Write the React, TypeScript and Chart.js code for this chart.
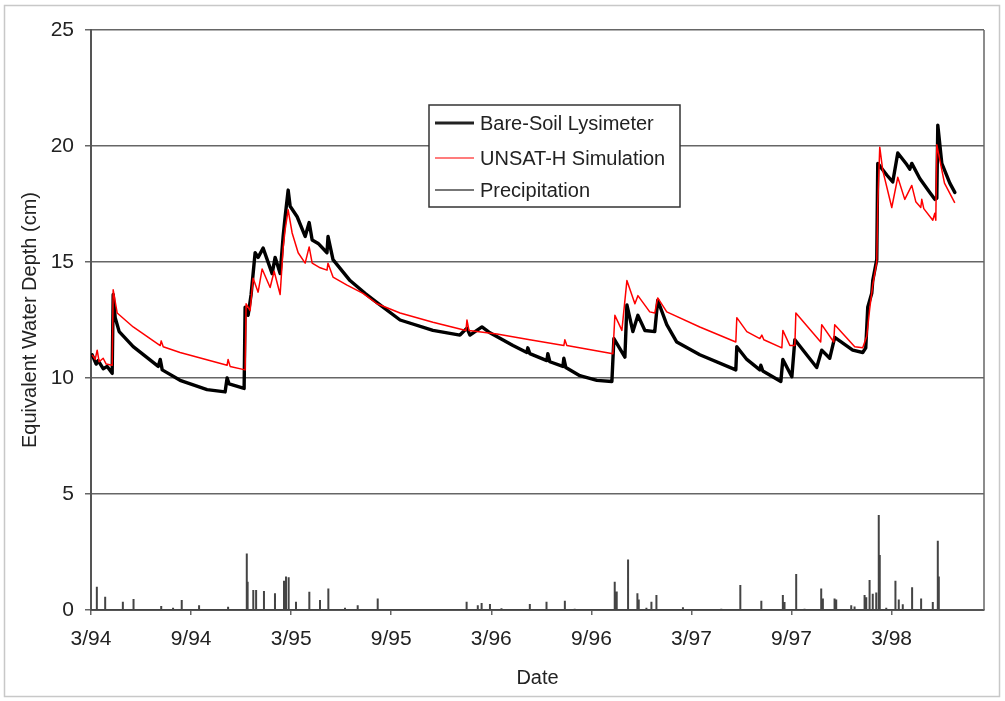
import React, { useEffect, useRef } from "react";
import { Chart, registerables } from "chart.js";

Chart.register(...registerables);

// x values are months since March 1994
const lysimeterMonths = [
  0.07, 0.31, 0.43, 0.73, 0.97, 1.27, 1.33, 1.45, 1.69, 2.53, 4.03, 4.15, 4.27, 5.34, 6.96, 8.04, 8.16, 8.28,
  9.18, 9.24, 9.42, 9.6, 9.84, 10.02, 10.32, 10.86, 11.04, 11.34, 11.52, 11.64, 11.82, 11.94, 12.36, 12.84,
  13.08, 13.26, 13.62, 14.15, 14.21, 14.51, 15.53, 16.43, 17.15, 18.53, 20.5, 22.12, 22.54, 22.72, 23.44,
  23.92, 25.3, 26.13, 26.19, 26.31, 27.33, 27.39, 27.51, 28.29, 28.35, 28.47, 29.31, 30.33, 31.23, 31.35,
  32.01, 32.13, 32.49, 32.79, 33.21, 33.8, 33.98, 34.52, 35.12, 36.5, 38.66, 38.72, 39.32, 40.1, 40.16,
  40.28, 41.36, 41.48, 42.02, 42.2, 43.51, 43.81, 44.29, 44.59, 45.67, 46.27, 46.45, 46.57, 46.81, 46.87,
  47.11, 47.17, 47.71, 48.07, 48.37, 48.91, 49.09, 49.21, 49.69, 50.29, 50.59, 50.71, 50.77, 51.01, 51.49,
  51.79,
];
const lysimeterDepth = [
  11.0, 10.6, 10.75, 10.4, 10.5, 10.2, 13.6, 12.6, 12.0, 11.35, 10.5, 10.8, 10.35, 9.9, 9.5, 9.4, 10.0, 9.75,
  9.55, 13.05, 12.7, 13.6, 15.4, 15.2, 15.6, 14.5, 15.2, 14.5, 16.1, 16.95, 18.1, 17.4, 16.95, 16.1,
  16.7, 15.95, 15.8, 15.4, 16.1, 15.1, 14.2, 13.65, 13.25, 12.5, 12.05, 11.85, 12.15, 11.85, 12.2,
  11.95, 11.4, 11.1, 11.3, 11.05, 10.75, 11.05, 10.7, 10.5, 10.85, 10.45, 10.1, 9.9, 9.85, 11.7,
  10.9, 13.15, 12.0, 12.7, 12.05, 12.0, 13.35, 12.3, 11.55, 11.0, 10.35, 11.35, 10.8, 10.35, 10.55,
  10.3, 9.85, 10.8, 10.05, 11.65, 10.45, 11.2, 10.85, 11.75, 11.2, 11.1, 11.3, 13.05, 13.65, 14.2,
  15.1, 19.25, 18.75, 18.45, 19.7, 19.2, 19.0, 19.25, 18.6, 18.0, 17.7, 17.75, 20.9, 19.25, 18.4,
  18.0,
];

const simulationMonths = [
  0.07, 0.25, 0.37, 0.49, 0.73, 0.91, 1.27, 1.33, 1.57, 2.53, 4.15, 4.21, 4.33, 5.34, 8.16, 8.22, 8.34,
  9.24, 9.3, 9.54, 9.72, 10.02, 10.26, 10.74, 10.98, 11.34, 11.52, 11.64, 11.82, 12.06, 12.42, 12.84,
  13.08, 13.26, 13.74, 14.15, 14.21, 14.51, 15.35, 16.31, 17.15, 18.53, 20.5, 22.48, 22.54, 22.66, 24.34,
  26.31, 28.35, 28.41, 28.53, 31.29, 31.41, 31.83, 32.13, 32.61, 32.79, 33.5, 33.8, 33.98, 34.52, 36.5,
  38.66, 38.72, 39.32, 40.1, 40.22, 40.34, 41.42, 41.48, 41.9, 42.2, 42.26, 43.75, 43.81, 44.53, 44.59,
  45.79, 46.27, 46.51, 46.69, 46.87, 47.11, 47.17, 47.29, 47.47, 48.01, 48.37, 48.79, 49.21, 49.45,
  49.75, 49.81, 49.93, 50.47, 50.59, 50.65, 50.71, 51.17, 51.79,
];
const simulationDepth = [
  11.0, 10.8, 11.2, 10.7, 10.85, 10.6, 10.55, 13.8, 12.8, 12.2, 11.4, 11.6, 11.35, 11.1, 10.55, 10.8, 10.5,
  10.35, 13.2, 12.9, 14.3, 13.7, 14.7, 13.9, 14.6, 13.6, 15.6, 16.4, 17.25, 16.25, 15.4, 14.95,
  15.65, 14.95, 14.75, 14.65, 14.95, 14.35, 14.0, 13.65, 13.2, 12.8, 12.4, 12.05, 12.5, 12.05, 11.9,
  11.65, 11.4, 11.65, 11.4, 11.05, 12.7, 12.05, 14.2, 13.2, 13.55, 12.85, 12.8, 13.45, 12.85, 12.2,
  11.55, 12.6, 12.0, 11.7, 11.85, 11.65, 11.3, 12.05, 11.4, 11.4, 12.8, 11.55, 12.3, 11.55, 12.3,
  11.35, 11.3, 11.8, 13.0, 14.0, 15.0, 17.5, 19.95, 18.95, 17.35, 18.65, 17.7, 18.3, 17.6,
  17.35, 17.7, 17.3, 16.8, 17.1, 16.8, 20.05, 18.4, 17.55,
];

const precipMonths = [
  0.35, 0.85, 1.91, 2.55, 4.21, 4.92, 5.44, 6.48, 8.22, 9.34, 9.39, 9.73, 9.9, 10.37, 11.03, 11.57, 11.69,
  11.85, 12.29, 13.09, 13.73, 14.23, 15.23, 15.99, 17.19, 22.52, 23.19, 23.42, 23.92, 24.61, 26.31, 27.31,
  28.41, 29.0, 31.4, 31.52, 32.2, 32.76, 32.84, 33.3, 33.6, 33.9, 35.49, 37.79, 38.93, 40.19, 41.48, 41.58,
  42.28, 42.78, 43.78, 43.88, 44.58, 44.68, 45.58, 45.78, 46.38, 46.48, 46.68, 46.87, 47.08, 47.23, 47.29,
  47.68, 48.23, 48.43, 48.67, 49.23, 49.77, 50.47, 50.77, 50.83,
];
const precipDepth = [
  1.0, 0.57, 0.36, 0.47, 0.17, 0.1, 0.43, 0.2, 0.14, 2.44, 1.22, 0.86, 0.86, 0.82, 0.72, 1.26, 1.44,
  1.41, 0.36, 0.79, 0.43, 0.93, 0.1, 0.2, 0.5, 0.36, 0.2, 0.3, 0.26, 0.08, 0.26, 0.36,
  0.4, 0.05, 1.22, 0.8, 2.18, 0.72, 0.45, 0.1, 0.36, 0.65, 0.12, 0.05, 1.08, 0.4, 0.65, 0.35,
  1.55, 0.05, 0.93, 0.5, 0.5, 0.45, 0.2, 0.15, 0.65, 0.55, 1.29, 0.7, 0.75, 4.1, 2.37,
  0.1, 1.26, 0.45, 0.25, 0.98, 0.5, 0.35, 2.99, 1.44,
];

const xTickMonths = [0, 6, 12, 18, 24, 30, 36, 42, 48];
const xTickLabels = ["3/94", "9/94", "3/95", "9/95", "3/96", "9/96", "3/97", "9/97", "3/98"];
const yTickValues = [0, 5, 10, 15, 20, 25];

const seriesNames = ["Bare-Soil Lysimeter", "UNSAT-H Simulation", "Precipitation"];

const FONT = "'Liberation Sans', Arial, sans-serif";
const TEXT = "#222";

const framePlugin = {
  id: "frame",
  beforeDatasetsDraw(chart: any) {
    const { ctx, chartArea } = chart;
    ctx.save();
    ctx.strokeStyle = "#666";
    ctx.lineWidth = 1.5;
    ctx.beginPath();
    ctx.moveTo(chartArea.right, chartArea.top);
    ctx.lineTo(chartArea.right, chartArea.bottom);
    ctx.stroke();
    ctx.restore();
  },
  afterDraw(chart: any) {
    const { ctx } = chart;
    ctx.save();
    // outer frame
    ctx.strokeStyle = "#c8c8c8";
    ctx.lineWidth = 1.5;
    ctx.strokeRect(4.5, 5.5, 995, 691);
    // legend box
    const bx = 429, by = 105, bw = 251, bh = 102;
    ctx.fillStyle = "#fff";
    ctx.fillRect(bx, by, bw, bh);
    ctx.strokeStyle = "#333";
    ctx.lineWidth = 1.5;
    ctx.strokeRect(bx, by, bw, bh);
    const rows = [123, 158, 190];
    const colors = ["#222", "#ff5050", "#777"];
    const widths = [3, 1.5, 2];
    ctx.font = `20px ${FONT}`;
    ctx.textBaseline = "alphabetic";
    ctx.textAlign = "left";
    rows.forEach((ry, i) => {
      ctx.strokeStyle = colors[i];
      ctx.lineWidth = widths[i];
      ctx.beginPath();
      ctx.moveTo(435, ry);
      ctx.lineTo(474, ry);
      ctx.stroke();
      ctx.fillStyle = TEXT;
      ctx.fillText(seriesNames[i], 480, ry + 7.2);
    });
    ctx.restore();
  },
};

export default function App() {
  const ref = useRef<HTMLCanvasElement>(null);

  useEffect(() => {
    if (!ref.current) return;
    const lysimeter = lysimeterMonths.map((m, i) => ({ x: m, y: lysimeterDepth[i] }));
    const simulation = simulationMonths.map((m, i) => ({ x: m, y: simulationDepth[i] }));
    const precip: { x: number; y: number }[] = [{ x: 0, y: 0 }];
    precipMonths.forEach((m, i) => {
      precip.push({ x: m, y: 0 }, { x: m, y: precipDepth[i] }, { x: m, y: 0 });
    });

    const chart = new Chart(ref.current, {
      type: "line",
      data: {
        datasets: [
          {
            label: seriesNames[2],
            data: precip,
            borderColor: "#444",
            borderWidth: 2,
            pointRadius: 0,
            tension: 0,
          },
          {
            label: seriesNames[1],
            data: simulation,
            borderColor: "#ff0000",
            borderWidth: 1.5,
            borderJoinStyle: "round",
            pointRadius: 0,
            tension: 0,
          },
          {
            label: seriesNames[0],
            data: lysimeter,
            borderColor: "#000",
            borderWidth: 3.4,
            borderJoinStyle: "round",
            borderCapStyle: "round",
            pointRadius: 0,
            tension: 0,
          },
        ],
      },
      options: {
        responsive: false,
        animation: false,
        layout: { padding: { top: 30, right: 21, left: 0, bottom: 0 } },
        plugins: { legend: { display: false }, tooltip: { enabled: false } },
        scales: {
          x: {
            type: "linear",
            min: 0,
            max: 53.54,
            afterBuildTicks: (s: any) => {
              s.ticks = xTickMonths.map((v) => ({ value: v }));
            },
            afterFit: (s: any) => {
              s.height = 91;
            },
            grid: { drawOnChartArea: false, drawTicks: true, tickLength: 5, color: "#666", lineWidth: 1.5 },
            border: { color: "#555", width: 2 },
            ticks: {
              autoSkip: false,
              maxRotation: 0,
              padding: 12,
              color: TEXT,
              font: { family: FONT, size: 21 },
              callback: (v: any) => {
                const i = xTickMonths.indexOf(Number(v));
                return i >= 0 ? xTickLabels[i] : "";
              },
            },
            title: {
              display: true,
              text: "Date",
              color: TEXT,
              font: { family: FONT, size: 20 },
              padding: { top: 0, bottom: 11 },
            },
          },
          y: {
            min: 0,
            max: 25,
            afterBuildTicks: (s: any) => {
              s.ticks = yTickValues.map((v) => ({ value: v }));
            },
            afterFit: (s: any) => {
              s.width = 91;
            },
            grid: { color: "#666", lineWidth: 1.5, tickLength: 6 },
            border: { color: "#555", width: 2 },
            ticks: { padding: 11, color: TEXT, font: { family: FONT, size: 21 } },
            title: {
              display: true,
              text: "Equivalent Water Depth (cm)",
              color: TEXT,
              font: { family: FONT, size: 20 },
              padding: { top: 18, bottom: 0 },
            },
          },
        },
      },
      plugins: [framePlugin],
    });
    return () => chart.destroy();
  }, []);

  return (
    <div style={{ position: "fixed", left: 0, top: 0, width: 1005, height: 701, background: "#fff" }}>
      <canvas ref={ref} width={1005} height={701} style={{ width: 1005, height: 701, display: "block" }} />
    </div>
  );
}
